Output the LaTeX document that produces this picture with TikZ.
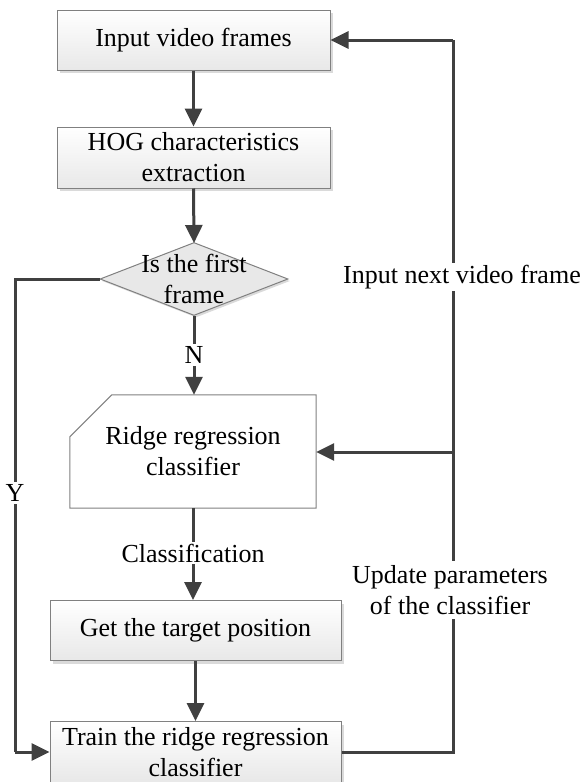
\documentclass[tikz,border=0pt]{standalone}
\usepackage{fontspec}
\setmainfont{Liberation Serif}
\usetikzlibrary{arrows.meta,shadows,shapes.geometric}
\definecolor{edge}{HTML}{404040}
\definecolor{rim}{HTML}{808080}
\definecolor{shade}{HTML}{DADADA}
\definecolor{lowgray}{HTML}{E8E8E8}
\tikzset{
  txt/.style={font=\fontsize{26}{31}\selectfont, align=center, inner sep=0pt},
  procbox/.style={draw=rim, line width=1pt, top color=white, bottom color=lowgray,
    drop shadow={shadow xshift=3pt, shadow yshift=-3pt, fill=shade, opacity=1},
    minimum width=#1, minimum height=60pt, inner sep=0pt, txt},
  flow/.style={draw=edge, line width=3pt, -{Triangle[length=18pt,width=17pt]}},
  wire/.style={draw=edge, line width=3pt},
  tag/.style={txt, fill=white, inner sep=2pt},
}
\begin{document}
\begin{tikzpicture}[x=1pt,y=-1pt]
  \useasboundingbox (0,0) rectangle (585,782);

  % process boxes
  \node[procbox=273pt] (input) at (193.5,40) {Input video frames};
  \node[procbox=273pt, minimum height=61pt] (hog) at (193.5,157.5) {HOG characteristics\\extraction};

  % decision
  \node[diamond, draw=rim, line width=1pt, fill=lowgray, inner sep=0pt,
        minimum width=188pt, minimum height=73pt,
        drop shadow={shadow xshift=2pt, shadow yshift=-2pt, fill=shade, opacity=1}]
        (first) at (194,279) {};
  \node[txt] (firsttxt) at (194,279) {Is the first\\frame};

  % ridge regression classifier (card shape with cut corner)
  \node[minimum width=246pt, minimum height=113pt, inner sep=0pt] (ridge) at (193,451.5) {};
  \draw[rim, line width=1pt, fill=white]
    ([xshift=42pt]ridge.north west) -- (ridge.north east) -- (ridge.south east)
    -- (ridge.south west) -- ([yshift=-42pt]ridge.north west) -- cycle;
  \node[txt] (ridgetxt) at (193,451.5) {Ridge regression\\classifier};

  \node[procbox=291pt] (target) at (195.5,630.5) {Get the target position};
  \node[procbox=291pt, minimum height=61pt] (train) at (195.5,752) {Train the ridge regression\\classifier};

  % main flow
  \draw[flow] (input) -- (hog);
  \draw[flow] (hog.south) -- ([yshift=-1pt]first.north);
  \draw[flow] (first.south) -- (first.south |- ridge.north);
  \node[tag] (n) at (194,355) {N};
  \draw[flow] (ridge.south) -- (ridge.south |- target.north);
  \node[tag] (cls) at (193,553) {Classification};
  \draw[flow] (target.south) -- (target.south |- train.north);

  % "yes" branch on the left
  \coordinate (yl) at (15,279);
  \coordinate (yb) at (15,752);
  \draw[wire] (first.west) -- (yl) -- (yb);
  \draw[flow] (yb) -- (train.west);
  \node[tag] (y) at (15,493) {Y};

  % feedback loop on the right
  \coordinate (rb) at (453,752);
  \coordinate (rt) at (453,40);
  \coordinate (rm) at (453,452);
  \draw[wire] (train.east) -- (rb) -- (rt);
  \draw[flow] (rt) -- (input.east);
  \draw[flow] (rm) -- (ridge.east |- rm);
  \node[tag] (next) at (462,277) {Input next video frame};
  \node[tag, inner sep=4pt] (upd) at (450,590) {Update parameters\\of the classifier};
\end{tikzpicture}
\end{document}
